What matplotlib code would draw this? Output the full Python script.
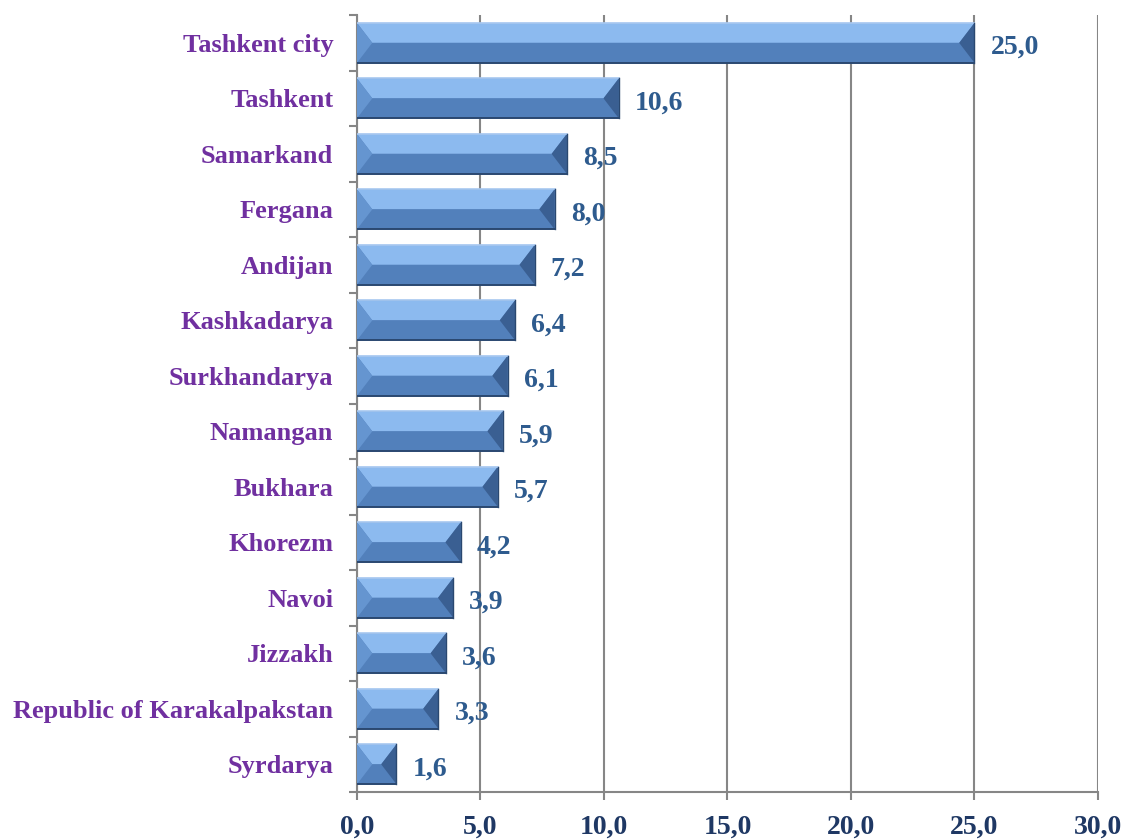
import matplotlib
matplotlib.use("Agg")
import matplotlib.pyplot as plt
from matplotlib.patches import Polygon
from matplotlib.ticker import FixedLocator
import numpy as np

# data
regions = ["Tashkent city", "Tashkent", "Samarkand", "Fergana", "Andijan",
           "Kashkadarya", "Surkhandarya", "Namangan", "Bukhara", "Khorezm",
           "Navoi", "Jizzakh", "Republic of Karakalpakstan", "Syrdarya"]
values = [25.0, 10.6, 8.5, 8.0, 7.2, 6.4, 6.1, 5.9, 5.7, 4.2, 3.9, 3.6, 3.3, 1.6]
xticks = [0, 5, 10, 15, 20, 25, 30]

plt.rcParams['font.family'] = ['Liberation Serif', 'DejaVu Serif']

fig = plt.figure(figsize=(11.25, 8.4), dpi=100)
ax = fig.add_axes([0.3173, 0.0571, 0.976 - 0.3173, 0.982 - 0.0571])

pos = np.arange(len(regions))
h = 0.72
ax.barh(pos, values, height=h, color='#5582BD', edgecolor='none', zorder=3)

# bevel faces
bx = 0.62   # horizontal bevel depth (data units)
for y, v in zip(pos, values):
    t, b = y - h / 2, y + h / 2
    d = min(bx, v / 2)
    top = Polygon([(0, t), (v, t), (v - d, y), (d, y)], closed=True,
                  facecolor='#8CBAEF', edgecolor='none', zorder=4)
    bot = Polygon([(0, b), (v, b), (v - d, y), (d, y)], closed=True,
                  facecolor='#5280BB', edgecolor='none', zorder=4)
    left = Polygon([(0, t), (d, y), (0, b)], closed=True,
                   facecolor='#6595D0', edgecolor='none', zorder=5)
    right = Polygon([(v, t), (v - d, y), (v, b)], closed=True,
                    facecolor='#3A5F92', edgecolor='none', zorder=5)
    for p in (top, bot, left, right):
        ax.add_patch(p)
    ax.plot([0, v], [t, t], color='#A8C8F0', lw=1.2, zorder=6)
    ax.plot([0, v], [b, b], color='#2A4870', lw=1.4, zorder=6)
    ax.plot([v, v], [t, b], color='#2A4870', lw=1.0, zorder=6)
    ax.text(v + 0.65, y + 0.08, f"{v:.1f}".replace('.', ','), va='center', ha='left',
            fontsize=20, fontweight='bold', color='#2E5B8E', zorder=7)

ax.set_xlim(0, 30)
ax.set_ylim(len(regions) - 0.5, -0.5)
ax.set_xticks(xticks)
ax.set_xticklabels([f"{x:.1f}".replace('.', ',') for x in xticks],
                   fontsize=20, fontweight='bold', color='#1F3864')
ax.set_yticks(pos)
ax.set_yticklabels(regions, fontsize=19, fontweight='bold', color='#7030A0')
ax.yaxis.set_minor_locator(FixedLocator(np.arange(-0.5, len(regions), 1.0)))
ax.tick_params(axis='y', which='major', length=0, pad=17)
ax.tick_params(axis='y', which='minor', length=6, width=1.5, color='#868686', direction='out')
ax.tick_params(axis='x', length=6, width=1.5, color='#868686', direction='out', pad=10)

ax.grid(axis='x', color='#868686', lw=1.5, zorder=0)
for s in ('top', 'right'):
    ax.spines[s].set_visible(False)
for s in ('left', 'bottom'):
    ax.spines[s].set_color('#868686')
    ax.spines[s].set_linewidth(1.5)

fig.savefig('out.png', dpi=100)
